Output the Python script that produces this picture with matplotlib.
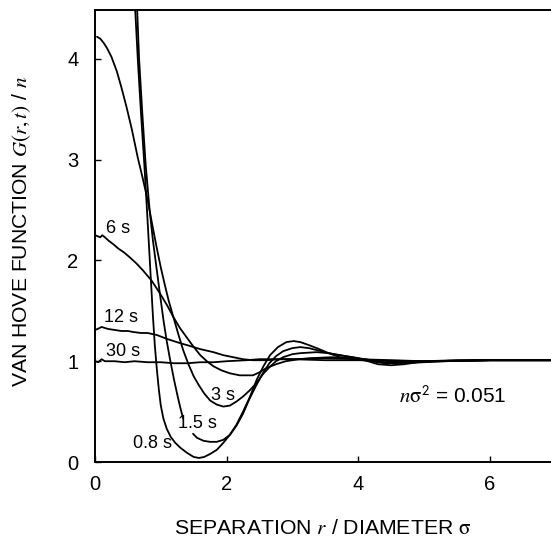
import matplotlib
matplotlib.use("Agg")
import matplotlib.pyplot as plt

plt.rcParams['font.family'] = ['Liberation Sans', 'DejaVu Sans']
plt.rcParams['mathtext.fontset'] = 'stix'

# data
r_08 = [0.61, 0.65, 0.70, 0.75, 0.79, 0.82, 0.85, 0.88, 0.91, 0.94, 0.97, 1.00, 1.04, 1.09, 1.15, 1.22, 1.30, 1.40, 1.50, 1.58, 1.66, 1.75, 1.85, 1.95, 2.05, 2.15, 2.25, 2.35, 2.46, 2.56, 2.66, 2.78, 2.91, 3.02, 3.12, 3.25, 3.37, 3.55, 3.72, 4.0, 4.15, 4.3, 4.5, 4.7, 5.0, 5.5, 6.0, 6.5, 7.0]
g_08 = [4.5, 4.0, 3.45, 2.95, 2.5, 2.15, 1.8, 1.45, 1.15, 0.92, 0.72, 0.56, 0.43, 0.33, 0.25, 0.19, 0.14, 0.09, 0.05, 0.04, 0.05, 0.08, 0.12, 0.19, 0.27, 0.37, 0.5, 0.64, 0.82, 0.95, 1.06, 1.14, 1.19, 1.2, 1.19, 1.16, 1.13, 1.08, 1.04, 1.02, 1.0, 0.97, 0.96, 0.97, 1.0, 1.01, 1.01, 1.01, 1.01]

r_15a = [0.64, 0.67, 0.72, 0.77, 0.83, 0.88, 0.93, 0.98, 1.04, 1.09, 1.14, 1.20, 1.26, 1.30, 1.34]
g_15a = [4.5, 4.0, 3.45, 2.95, 2.5, 2.2, 1.95, 1.7, 1.41, 1.2, 1.02, 0.82, 0.64, 0.53, 0.43]
r_15b = [1.49, 1.55, 1.65, 1.75, 1.85, 1.95, 2.05, 2.15, 2.25, 2.35, 2.45, 2.55, 2.65, 2.75, 2.86, 3.0, 3.12, 3.25, 3.37, 3.55, 3.72, 4.0, 4.2, 4.4, 4.7, 5.0, 5.3, 6.0, 7.0]
g_15b = [0.28, 0.24, 0.21, 0.2, 0.2, 0.22, 0.27, 0.36, 0.48, 0.63, 0.76, 0.88, 0.98, 1.05, 1.1, 1.13, 1.14, 1.13, 1.11, 1.08, 1.06, 1.03, 1.0, 0.98, 0.98, 0.99, 1.0, 1.01, 1.01]

r_3 = [0.03, 0.08, 0.13, 0.18, 0.25, 0.33, 0.40, 0.48, 0.56, 0.65, 0.72, 0.80, 0.88, 0.94, 1.0, 1.06, 1.12, 1.19, 1.27, 1.34, 1.42, 1.5, 1.58, 1.66, 1.75, 1.85, 1.95, 2.05, 2.15, 2.25, 2.35, 2.45, 2.55, 2.65, 2.75, 2.86, 3.0, 3.12, 3.37, 3.55, 3.72, 4.0, 4.2, 4.4, 4.8, 5.3, 6.0, 7.0]
g_3 = [4.22, 4.2, 4.16, 4.11, 4.02, 3.88, 3.72, 3.52, 3.3, 3.02, 2.83, 2.6, 2.32, 2.12, 1.93, 1.76, 1.6, 1.44, 1.26, 1.11, 0.97, 0.85, 0.76, 0.68, 0.61, 0.57, 0.55, 0.56, 0.6, 0.65, 0.71, 0.78, 0.87, 0.94, 1.0, 1.04, 1.07, 1.08, 1.09, 1.08, 1.06, 1.03, 1.01, 0.99, 0.99, 1.0, 1.01, 1.01]

r_6 = [0.0, 0.04, 0.08, 0.11, 0.15, 0.2, 0.28, 0.35, 0.44, 0.53, 0.63, 0.73, 0.86, 0.99, 1.1, 1.19, 1.29, 1.39, 1.49, 1.6, 1.7, 1.8, 1.92, 2.05, 2.2, 2.4, 2.5, 2.6, 2.75, 2.9, 3.1, 3.27, 3.6, 4.0, 4.5, 5.0, 6.0, 7.0]
g_6 = [2.25, 2.24, 2.23, 2.25, 2.23, 2.2, 2.16, 2.12, 2.08, 2.03, 1.97, 1.9, 1.8, 1.67, 1.55, 1.44, 1.33, 1.24, 1.15, 1.06, 1.0, 0.95, 0.91, 0.88, 0.86, 0.86, 0.89, 0.93, 0.97, 1.0, 1.02, 1.03, 1.04, 1.02, 1.0, 1.0, 1.01, 1.01]

r_12 = [0.0, 0.04, 0.1, 0.15, 0.2, 0.3, 0.4, 0.5, 0.58, 0.7, 0.8, 0.94, 1.1, 1.29, 1.45, 1.6, 1.8, 1.95, 2.1, 2.25, 2.4, 2.6, 2.8, 3.0, 3.5, 4.0, 5.0, 6.0, 7.0]
g_12 = [1.31, 1.32, 1.34, 1.33, 1.32, 1.31, 1.3, 1.3, 1.29, 1.28, 1.28, 1.26, 1.22, 1.18, 1.15, 1.12, 1.09, 1.06, 1.04, 1.02, 1.01, 1.01, 1.02, 1.02, 1.03, 1.02, 1.0, 1.01, 1.01]

r_30 = [0.0, 0.05, 0.1, 0.15, 0.3, 0.45, 0.6, 0.8, 1.0, 1.2, 1.4, 1.6, 1.8, 2.0, 2.3, 2.5, 3.0, 3.5, 4.0, 5.0, 6.0, 7.0]
g_30 = [1.0, 0.99, 1.02, 1.0, 1.0, 0.99, 1.0, 0.99, 0.99, 0.98, 0.98, 0.99, 0.99, 1.0, 1.01, 1.02, 1.02, 1.01, 1.01, 1.0, 1.01, 1.01]

labels = ["6 s", "12 s", "30 s", "3 s", "1.5 s", "0.8 s"]
label_x = [0.35, 0.39, 0.43, 1.94, 1.55, 0.87]
label_y = [2.32, 1.43, 1.10, 0.66, 0.38, 0.18]

xticks = [0, 2, 4, 6]
yticks = [0, 1, 2, 3, 4]

fig = plt.figure(figsize=(5.51, 5.37), dpi=100)
ax = fig.add_axes([95/551, 75/537, (551-95)/551, (462-9.5)/537])

lw = 1.3
for xs, ys in [(r_08, g_08), (r_15a, g_15a), (r_15b, g_15b), (r_3, g_3),
               (r_6, g_6), (r_12, g_12), (r_30, g_30)]:
    ax.plot(xs, ys, color='black', lw=lw, solid_capstyle='round',
            solid_joinstyle='round')

for t, x, y in zip(labels, label_x, label_y):
    ax.text(x, y, t, fontsize=13, ha='center', va='center')

ax.text(5.43, 0.65, r"$n\mathrm{\sigma}^{\mathsf{2}}$ = 0.051", fontsize=15,
        ha='center', va='center')

ax.set_xlim(0, 6.93)
ax.set_ylim(0, 4.49)
ax.set_xticks(xticks)
ax.set_yticks(yticks)
ax.tick_params(direction='in', length=4, width=1, labelsize=14.5)
ax.tick_params(axis='y', pad=12)
ax.tick_params(axis='x', pad=9)
ax.spines['right'].set_visible(False)
for s in ['left', 'bottom', 'top']:
    ax.spines[s].set_linewidth(1.4)

ax.set_xlabel(r"SEPARATION $r$ / DIAMETER $\mathrm{\sigma}$", fontsize=15.3, labelpad=18)
ax.set_ylabel(r"VAN HOVE FUNCTION $G(r,t)$ / $n$", fontsize=15.2)
ax.yaxis.set_label_coords(-0.136, 0.51)

fig.savefig("out.png", dpi=100)
